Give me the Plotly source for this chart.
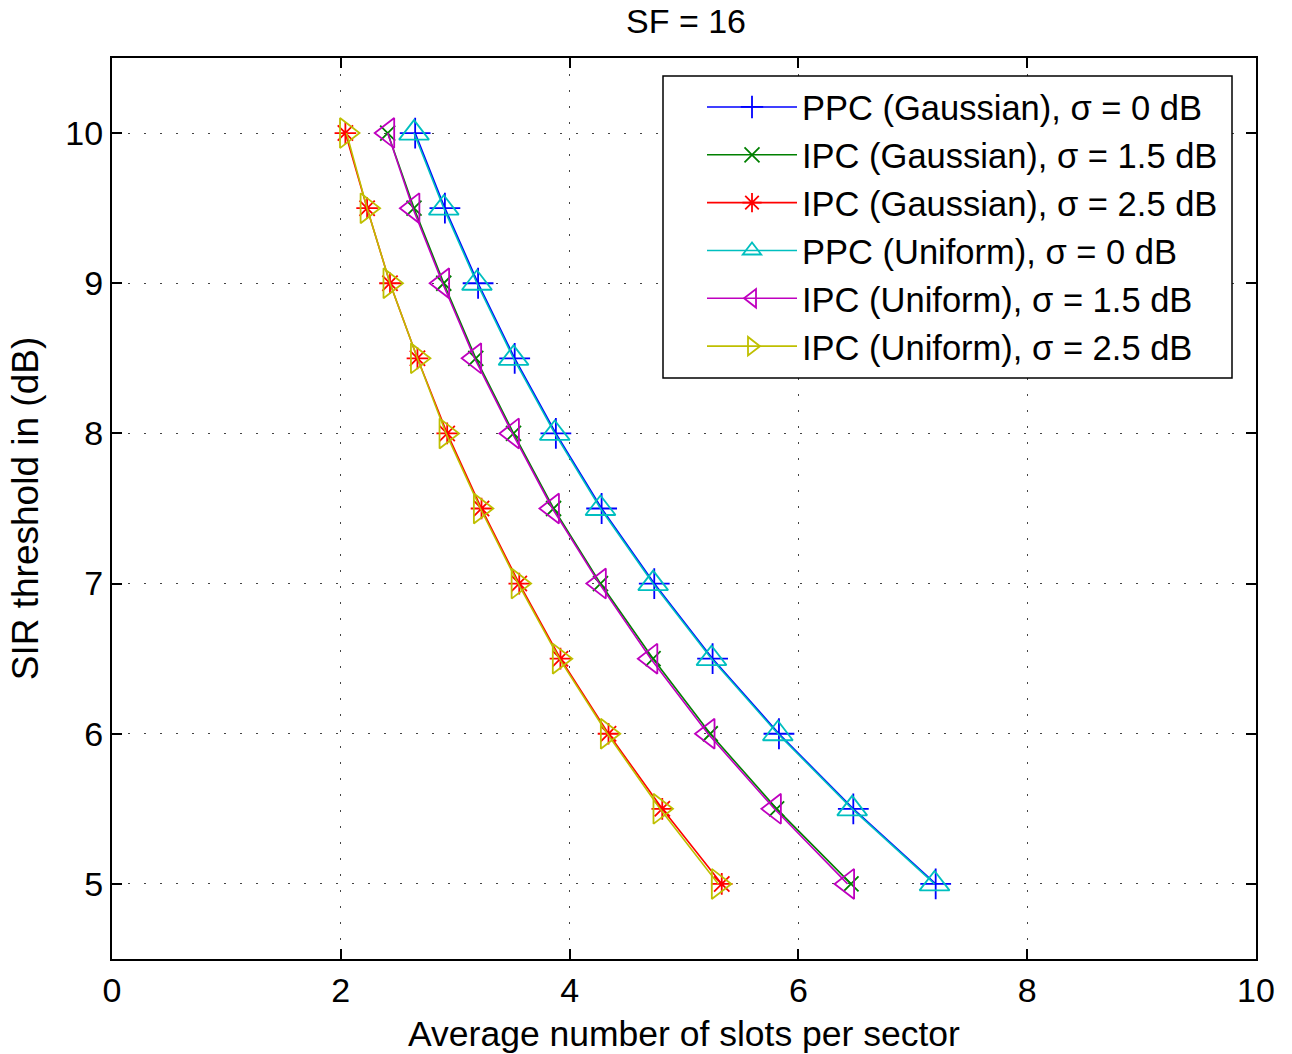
import plotly.graph_objects as go

sir_db = [10, 9.5, 9, 8.5, 8, 7.5, 7, 6.5, 6, 5.5, 5]

ppc_gauss_0 = [2.65, 2.91, 3.20, 3.52, 3.88, 4.28, 4.74, 5.25, 5.83, 6.48, 7.20]
ipc_gauss_15 = [2.41, 2.64, 2.90, 3.18, 3.51, 3.86, 4.27, 4.73, 5.23, 5.81, 6.46]
ipc_gauss_25 = [2.04, 2.23, 2.43, 2.67, 2.93, 3.23, 3.56, 3.92, 4.34, 4.81, 5.33]
ppc_unif_0 = [2.64, 2.90, 3.19, 3.51, 3.87, 4.27, 4.73, 5.24, 5.82, 6.47, 7.19]
ipc_unif_15 = [2.41, 2.63, 2.89, 3.17, 3.50, 3.85, 4.26, 4.71, 5.21, 5.79, 6.43]
ipc_unif_25 = [2.05, 2.23, 2.43, 2.67, 2.92, 3.22, 3.55, 3.91, 4.33, 4.79, 5.30]

series_names = [
    "PPC (Gaussian), σ = 0 dB",
    "IPC (Gaussian), σ = 1.5 dB",
    "IPC (Gaussian), σ = 2.5 dB",
    "PPC (Uniform), σ = 0 dB",
    "IPC (Uniform), σ = 1.5 dB",
    "IPC (Uniform), σ = 2.5 dB",
]
series_x = [ppc_gauss_0, ipc_gauss_15, ipc_gauss_25, ppc_unif_0, ipc_unif_15, ipc_unif_25]
colors = ["#0000ff", "#008000", "#ff0000", "#00bfbf", "#bf00bf", "#bfbf00"]
symbols = ["cross-thin-open", "x-thin-open", "asterisk-open",
           "triangle-up-open", "triangle-left-open", "triangle-right-open"]
sizes = [22, 15, 18, 26, 26, 26]

fig = go.Figure()
for name, xs, c, s, sz in zip(series_names, series_x, colors, symbols, sizes):
    fig.add_trace(go.Scatter(
        x=xs, y=sir_db, name=name, mode="lines+markers",
        line=dict(color=c, width=1.6),
        marker=dict(symbol=s, size=sz, color=c, line=dict(color=c, width=1.8)),
    ))

# body margin is removed (post_script) so page pixels == screen pixels;
# plot area sits at x 112..1256, y 58..959
W, H = 1292, 1054
L, R, T, B = 112, 36, 58, 95
PX0, PX1, PY0, PY1 = L, W - R, T, H - B


def px(sx):
    return (sx - PX0) / (PX1 - PX0)


def py(sy):
    return 1 - (sy - PY0) / (PY1 - PY0)


font_family = "Liberation Sans, Arial, sans-serif"
fig.update_layout(
    width=W, height=H,
    margin=dict(l=L, r=R, t=T, b=B, autoexpand=False),
    paper_bgcolor="white", plot_bgcolor="white",
    font=dict(family=font_family, size=35, color="black"),
    title=dict(text="SF = 16", x=686 / W, xanchor="center", xref="container",
               y=1 - 21 / H, yanchor="middle", yref="container",
               font=dict(family=font_family, size=34)),
    showlegend=True,
    legend=dict(x=px(702), y=py(78), xanchor="left", yanchor="top",
                bgcolor="rgba(0,0,0,0)", borderwidth=0,
                font=dict(family=font_family, size=34.5), itemwidth=90, tracegroupgap=0),
    shapes=[dict(type="rect", xref="paper", yref="paper",
                 x0=px(663), x1=px(1232), y0=py(378), y1=py(76),
                 line=dict(color="black", width=1.5), fillcolor="white", layer="above")],
)
axis_common = dict(
    showline=True, linecolor="black", linewidth=2, mirror="allticks",
    ticks="inside", ticklen=10, tickwidth=1.5, tickcolor="black",
    showgrid=True, gridcolor="#444444", gridwidth=1, griddash="2px,14px",
    zeroline=False, tickfont=dict(family=font_family, size=34), automargin=False,
)
fig.update_xaxes(range=[0, 10], tickvals=[0, 2, 4, 6, 8, 10],
                 title=dict(text="Average number of slots per sector", standoff=13,
                            font=dict(family=font_family, size=35.5)),
                 **axis_common)
fig.update_yaxes(range=[4.5, 10.5], tickvals=[5, 6, 7, 8, 9, 10],
                 title=dict(text="SIR threshold in (dB)", standoff=15,
                            font=dict(family=font_family, size=37)),
                 **axis_common)

fig.write_html("out.html",
               config={"displayModeBar": False},
               post_script="document.body.style.margin='0';document.body.style.overflow='hidden';")
